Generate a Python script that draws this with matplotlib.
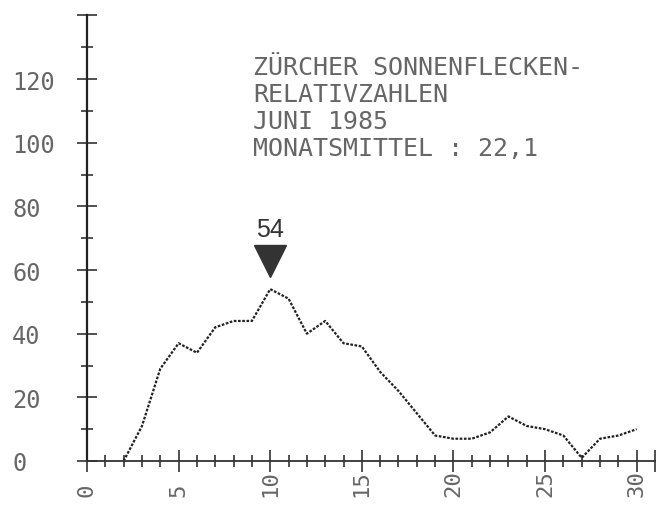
import matplotlib
matplotlib.use("Agg")
import matplotlib.pyplot as plt
import matplotlib.transforms as mtransforms
from matplotlib.ticker import MultipleLocator

# daily sunspot relative numbers, June 1985
days = list(range(2, 31))
values = [0, 11, 29, 37, 34, 42, 44, 44, 54, 51, 40, 44, 37, 36,
          28, 22, 15, 8, 7, 7, 9, 14, 11, 10, 8, 1, 7, 8, 10]

x_ticks = [0, 5, 10, 15, 20, 25, 30]
y_ticks = [0, 20, 40, 60, 80, 100, 120]
title_lines = ["ZÜRCHER SONNENFLECKEN-",
               "RELATIVZAHLEN",
               "JUNI 1985",
               "MONATSMITTEL : 22,1"]

W, H = 667, 510
dot_font = "DejaVu Sans Mono"
dot_color = "#666666"

fig = plt.figure(figsize=(W / 100, H / 100), dpi=100)
ax = fig.add_axes([87 / W, 48 / H, 568 / W, 445.6 / H])

ax.plot(days, values, color="#222222", lw=1.6, linestyle=(0, (1.2, 0.7)),
        clip_on=False)

ax.set_xlim(0, 31)
ax.set_ylim(0, 140)

for side in ("top", "right"):
    ax.spines[side].set_visible(False)
ax.spines["left"].set_linewidth(1.6)
ax.spines["left"].set_color("#222222")
ax.spines["bottom"].set_linewidth(1.3)
ax.spines["bottom"].set_color("#333333")

ax.xaxis.set_minor_locator(MultipleLocator(1))
ax.yaxis.set_minor_locator(MultipleLocator(10))

ax.set_xticks(x_ticks + [31], [str(v) for v in x_ticks] + [""])
ax.set_yticks(y_ticks + [140], [str(v) for v in y_ticks] + [""])

ax.tick_params(axis="y", which="major", direction="inout", length=13.7,
               width=1.1, color="#222222", pad=47, labelsize=17,
               labelcolor=dot_color)
ax.tick_params(axis="y", which="minor", direction="inout", length=8,
               width=1.1, color="#222222")
ax.tick_params(axis="x", which="major", direction="inout", length=16.5,
               width=1.1, color="#222222", pad=17, labelsize=16,
               labelcolor=dot_color)
ax.tick_params(axis="x", which="minor", direction="inout", length=9,
               width=1.1, color="#222222")

for lab in ax.get_yticklabels():
    lab.set_fontfamily(dot_font)
    lab.set_ha("left")
for lab in ax.get_xticklabels():
    lab.set_fontfamily(dot_font)
    lab.set_rotation(90)
    lab.set_va("bottom")
    lab.set_ha("center")

# peak marker and label
peak = max(values)
peak_day = days[values.index(peak)]
up = mtransforms.ScaledTranslation(0, 20 / 72, fig.dpi_scale_trans)
ax.plot([peak_day], [peak], marker="v", markersize=23, color="#333333",
        linestyle="none", transform=ax.transData + up, clip_on=False)
ax.annotate(str(peak), (peak_day, peak), xytext=(0, 38),
            textcoords="offset points", ha="center", va="baseline",
            fontsize=18, family="Liberation Sans", color="#333333")

# title block
for i, line in enumerate(title_lines):
    fig.text(253 / W, 1 - (75 + 27 * i) / H, line, fontsize=18,
             family=dot_font, color=dot_color, va="baseline", ha="left")

fig.savefig("out.png", dpi=100)
